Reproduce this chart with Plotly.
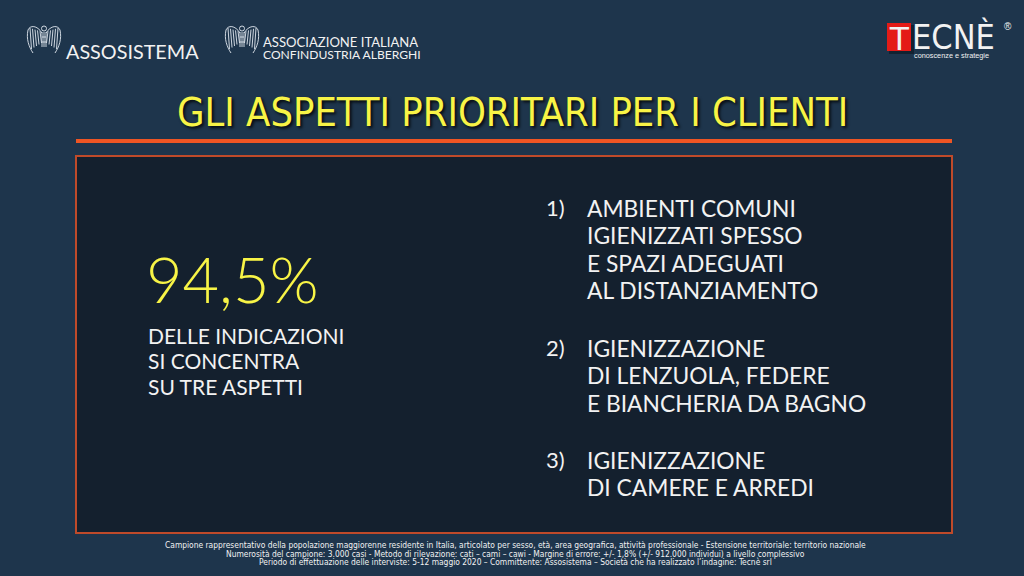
import plotly.graph_objects as go

# ---------------- data ----------------
title_text = "GLI ASPETTI PRIORITARI PER I CLIENTI"
headline_value = "94,5%"
headline_lines = ["DELLE INDICAZIONI", "SI CONCENTRA", "SU TRE ASPETTI"]
item_numbers = ["1)", "2)", "3)"]
item_lines = [
    ["AMBIENTI COMUNI", "IGIENIZZATI SPESSO", "E SPAZI ADEGUATI", "AL DISTANZIAMENTO"],
    ["IGIENIZZAZIONE", "DI LENZUOLA, FEDERE", "E BIANCHERIA DA BAGNO"],
    ["IGIENIZZAZIONE", "DI CAMERE E ARREDI"],
]
item_start_y = [207.5, 347.5, 459.5]
footer_lines = [
    "Campione rappresentativo della popolazione maggiorenne residente in Italia, articolato per sesso, età, area geografica, attività professionale - Estensione territoriale: territorio nazionale",
    "Numerosità del campione: 3.000 casi - Metodo di rilevazione: cati – cami – cawi - Margine di errore: +/- 1,8% (+/- 912.000 individui) a livello complessivo",
    "Periodo di effettuazione delle interviste: 5-12 maggio 2020 – Committente: Assosistema – Società che ha realizzato l’indagine: Tecnè srl",
]
logo1_text = "ASSOSISTEMA"
logo2_lines = ["ASSOCIAZIONE ITALIANA", "CONFINDUSTRIA ALBERGHI"]

# ---------------- style ----------------
BG = "#1e354c"
BOX = "#14202e"
ORANGE = "#ee5524"
BORDER = "#bf4a2a"
YELLOW = "#f8f446"
WHITE = "#f2f2f2"
BODY_FONT = "Lato"
NARROW = "DejaVu Sans Condensed, Roboto"

fig = go.Figure()
shapes = []
ann = []

def text(x, y, s, size, color=WHITE, family=BODY_FONT, xanchor="left", yanchor="middle",
         weight=None, shadow=None):
    f = dict(size=size, color=color, family=family)
    if weight is not None:
        f["weight"] = weight
    if shadow is not None:
        f["shadow"] = shadow
    ann.append(dict(x=x, y=y, xref="x", yref="y", text=s, showarrow=False,
                    xanchor=xanchor, yanchor=yanchor, font=f))

# orange rule under title
shapes.append(dict(type="rect", x0=76, x1=952, y0=139, y1=143, fillcolor=ORANGE, line=dict(width=0)))
# main box
shapes.append(dict(type="rect", x0=76, x1=952, y0=156, y1=533, fillcolor=BOX,
                   line=dict(color=BORDER, width=2)))

# title
text(512, 111.5, title_text, 39.5, color=YELLOW, family=NARROW, xanchor="center",
     shadow="2px 2px 3px rgba(0,0,0,0.8)")

# headline
text(144, 278, headline_value, 63, color=YELLOW, weight=300)
for i, s in enumerate(headline_lines):
    text(146, 335 + i * 25.5, s, 21)

# numbered list
for n, lines, y0 in zip(item_numbers, item_lines, item_start_y):
    text(544, y0, n, 22)
    for j, s in enumerate(lines):
        text(585, y0 + j * 27.5, s, 22.8)

# footer
for i, s in enumerate(footer_lines):
    text(515, 545 + i * 8.7, s, 8.4, family=NARROW, xanchor="center")

# ---------- logos ----------
def eagle(ox, oy):
    c = "rgba(225,232,240,0.9)"
    w = 1.0
    paths = []
    shapes.append(dict(type="circle", x0=ox + 14.5, x1=ox + 19.5, y0=oy + 1, y1=oy + 6,
                       line=dict(color=c, width=w)))
    paths.append(f"M {ox+15},{oy+8} C {ox+10},{oy+0} {ox+3},{oy+0} {ox+1},{oy+5} C {ox-1},{oy+14} {ox+2},{oy+22} {ox+6},{oy+28}")
    paths.append(f"M {ox+19},{oy+8} C {ox+24},{oy+0} {ox+31},{oy+0} {ox+33},{oy+5} C {ox+35},{oy+14} {ox+32},{oy+22} {ox+28},{oy+28}")
    for k in range(5):
        xl = ox + 3 + k * 2.5
        paths.append(f"M {xl},{oy+3+k*0.8} L {xl+1.5},{oy+24-k*1.5}")
        xr = ox + 31 - k * 2.5
        paths.append(f"M {xr},{oy+3+k*0.8} L {xr-1.5},{oy+24-k*1.5}")
    paths.append(f"M {ox+15},{oy+7} L {ox+15},{oy+22} M {ox+19},{oy+7} L {ox+19},{oy+22} M {ox+17},{oy+7} L {ox+17},{oy+22}")
    paths.append(f"M {ox+15},{oy+12} L {ox+19},{oy+12} M {ox+15},{oy+17} L {ox+19},{oy+17}")
    for r in (3.5, 6.5, 9.5, 12.5):
        paths.append(f"M {ox+17-r},{oy+32} A {r} {r*0.75} 0 0 1 {ox+17+r},{oy+32}")
    for p in paths:
        shapes.append(dict(type="path", path=p, line=dict(color=c, width=w)))

eagle(27, 25)
text(64, 51, logo1_text, 19.8, family="Lato")
eagle(225, 25)
text(261, 41.5, logo2_lines[0], 13.1, family="Lato")
text(261, 54, logo2_lines[1], 12.1, family="Lato")

# Tecnè logo
shapes.append(dict(type="rect", x0=889, x1=914, y0=25, y1=54, fillcolor="rgba(0,0,0,0.35)", line=dict(width=0)))
shapes.append(dict(type="rect", x0=887, x1=911, y0=23, y1=51, fillcolor="#e41b17", line=dict(width=0)))
text(899, 37.5, "T", 34, family="Liberation Sans", xanchor="center")
text(910, 36.5, "ECNÈ", 34, family="DejaVu Sans Condensed, Liberation Sans", weight=300)
text(1002, 26, "®", 10, family="Liberation Sans")
text(912, 55.5, "conoscenze e strategie", 7.3, family="Liberation Sans")

fig.update_layout(
    width=1024, height=576,
    margin=dict(l=0, r=0, t=0, b=0),
    paper_bgcolor=BG, plot_bgcolor=BG,
    xaxis=dict(range=[0, 1024], visible=False, fixedrange=True),
    yaxis=dict(range=[576, 0], visible=False, fixedrange=True),
    shapes=shapes, annotations=ann, showlegend=False,
)
fig.write_html("out.html", post_script="document.body.style.margin='0';",
               config={"displayModeBar": False})
